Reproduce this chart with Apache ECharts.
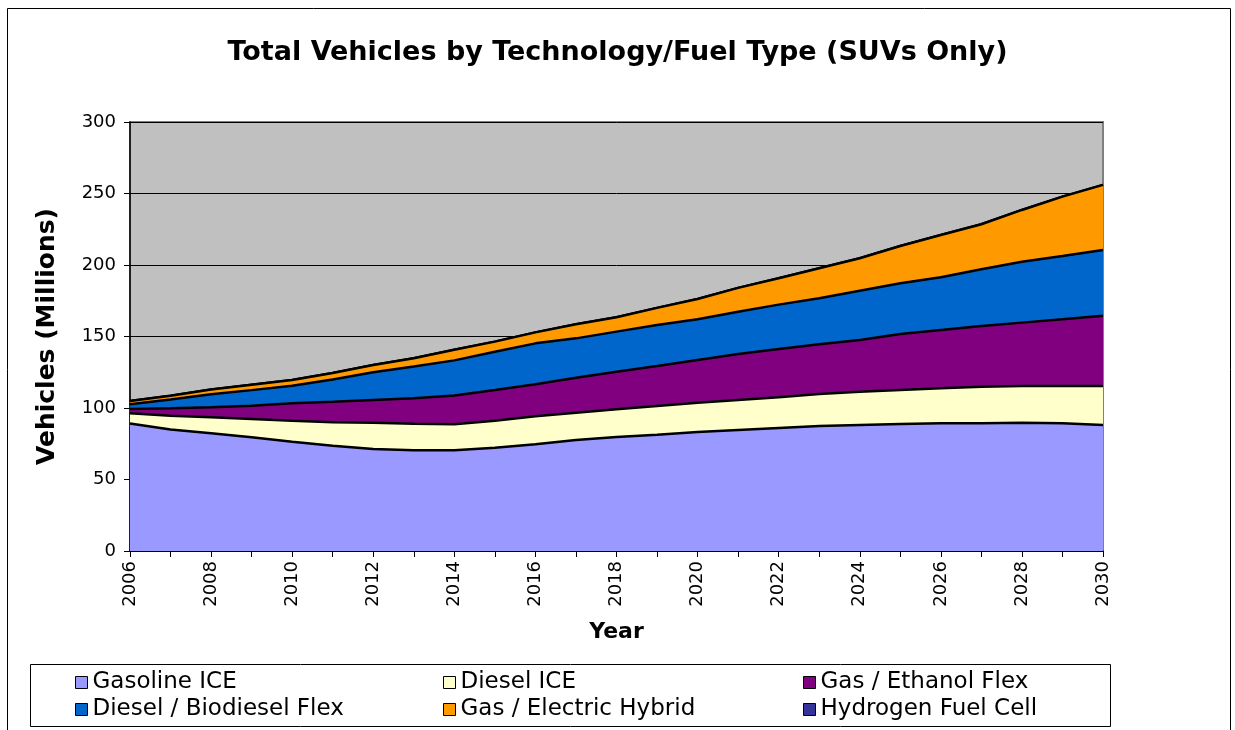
<!DOCTYPE html>
<html>
<head>
<meta charset="utf-8">
<script src="https://cdn.jsdelivr.net/npm/echarts@6/dist/echarts.min.js"></script>
<style>html,body{margin:0;padding:0;background:#fff;}#c{width:1235px;height:730px;}</style>
</head>
<body>
<div id="c"></div>
<script>
const years = ['2006','2007','2008','2009','2010','2011','2012','2013','2014','2015','2016','2017','2018','2019','2020','2021','2022','2023','2024','2025','2026','2027','2028','2029','2030'];
const gasolineICE = [89.2,85.0,82.3,79.5,76.4,73.6,71.3,70.4,70.4,72.2,74.6,77.6,79.7,81.3,83.2,84.6,86.0,87.4,88.1,88.8,89.3,89.3,89.7,89.3,88.1];
const dieselICE = [7.1,9.6,11.2,12.8,14.7,16.4,18.4,18.6,18.3,18.9,19.6,19.1,19.4,20.1,20.5,21.0,21.5,22.4,23.3,23.8,24.5,25.6,25.7,26.1,27.3];
const gasEthanolFlex = [3.0,5.2,7.0,9.3,12.2,14.4,15.9,17.8,20.1,21.5,22.4,24.5,26.3,28.0,29.9,32.2,33.7,34.7,36.2,39.1,40.7,42.4,44.3,46.6,49.1];
const dieselBiodieselFlex = [3.3,6.2,9.1,10.9,12.3,15.6,19.4,22.2,24.5,26.8,28.6,27.5,28.0,28.6,28.4,29.5,31.1,32.2,34.4,35.5,36.9,39.7,42.6,44.3,46.0];
const gasElectricHybrid = [2.3,2.6,3.4,3.8,4.0,4.5,5.0,5.8,7.5,7.0,7.7,9.8,10.1,12.0,14.2,16.7,18.4,21.0,22.7,26.1,29.6,31.5,36.2,41.5,45.5];
const hydrogenFuelCell = [0,0,0,0,0,0,0,0,0,0,0,0,0,0,0,0,0,0,0,0,0,0,0,0,0];
const seriesNames = ['Gasoline ICE','Diesel ICE','Gas / Ethanol Flex','Diesel / Biodiesel Flex','Gas / Electric Hybrid','Hydrogen Fuel Cell'];
const seriesData = [gasolineICE, dieselICE, gasEthanolFlex, dieselBiodieselFlex, gasElectricHybrid, hydrogenFuelCell];
const colors = ['#9999FF','#FFFFCC','#800080','#0066CC','#FF9900','#333399'];

const chart = echarts.init(document.getElementById('c'));
const font = '"DejaVu Sans", Arial, sans-serif';
const legendPos = [
  {left: 70, top: 666}, {left: 438, top: 666}, {left: 798, top: 666},
  {left: 70, top: 693}, {left: 438, top: 693}, {left: 798, top: 693}
];
chart.setOption({
  animation: false,
  color: colors,
  title: {
    text: 'Total Vehicles by Technology/Fuel Type (SUVs Only)',
    left: 'center', top: 34,
    textStyle: {fontFamily: font, fontSize: 27, fontWeight: 'bold', color: '#000'}
  },
  graphic: [
    {type: 'rect', shape: {x: 7.5, y: 8.5, width: 1223, height: 740}, style: {fill: null, stroke: '#000', lineWidth: 1}, z: -10},
    {type: 'rect', shape: {x: 30.5, y: 664.5, width: 1080, height: 62}, style: {fill: '#fff', stroke: '#000', lineWidth: 1}, z: -5}
  ],
  legend: seriesNames.map((n, i) => ({
    data: [n], left: legendPos[i].left, top: legendPos[i].top,
    icon: 'rect', itemWidth: 12, itemHeight: 12, itemGap: 4,
    itemStyle: {borderColor: '#000', borderWidth: 1},
    textStyle: {fontFamily: font, fontSize: 23, color: '#000', padding: [0,0,0,0]},
    selectedMode: false
  })),
  grid: {left: 130, right: 132, top: 122, bottom: 179, show: true, backgroundColor: '#C0C0C0', borderColor: '#808080', borderWidth: 2},
  xAxis: {
    type: 'category', data: years, boundaryGap: false,
    name: 'Year', nameLocation: 'middle', nameGap: 70,
    nameTextStyle: {fontFamily: font, fontSize: 22, fontWeight: 'bold', color: '#000'},
    axisLine: {lineStyle: {color: '#000', width: 1.5}},
    axisTick: {interval: 0, length: 6, lineStyle: {color: '#000'}},
    axisLabel: {interval: 1, rotate: 90, fontFamily: font, fontSize: 18, color: '#000', margin: 10},
    splitLine: {show: false}
  },
  yAxis: {
    type: 'value', min: 0, max: 300, interval: 50,
    name: 'Vehicles (Millions)', nameLocation: 'middle', nameGap: 70,
    nameTextStyle: {fontFamily: font, fontSize: 25, fontWeight: 'bold', color: '#000'},
    axisLine: {show: true, lineStyle: {color: '#000', width: 1.5}},
    axisTick: {show: true, length: 6, lineStyle: {color: '#000'}},
    axisLabel: {fontFamily: font, fontSize: 18, color: '#000', margin: 14},
    splitLine: {show: true, lineStyle: {color: '#000', width: 1}}
  },
  series: seriesNames.map((n, i) => ({
    name: n, type: 'line', stack: 'total', data: seriesData[i],
    symbol: 'none', smooth: false,
    lineStyle: {color: '#000', width: 2.5},
    areaStyle: {color: colors[i], opacity: 1},
    itemStyle: {color: colors[i]},
    z: 10 - i
  }))
});
</script>
</body>
</html>
